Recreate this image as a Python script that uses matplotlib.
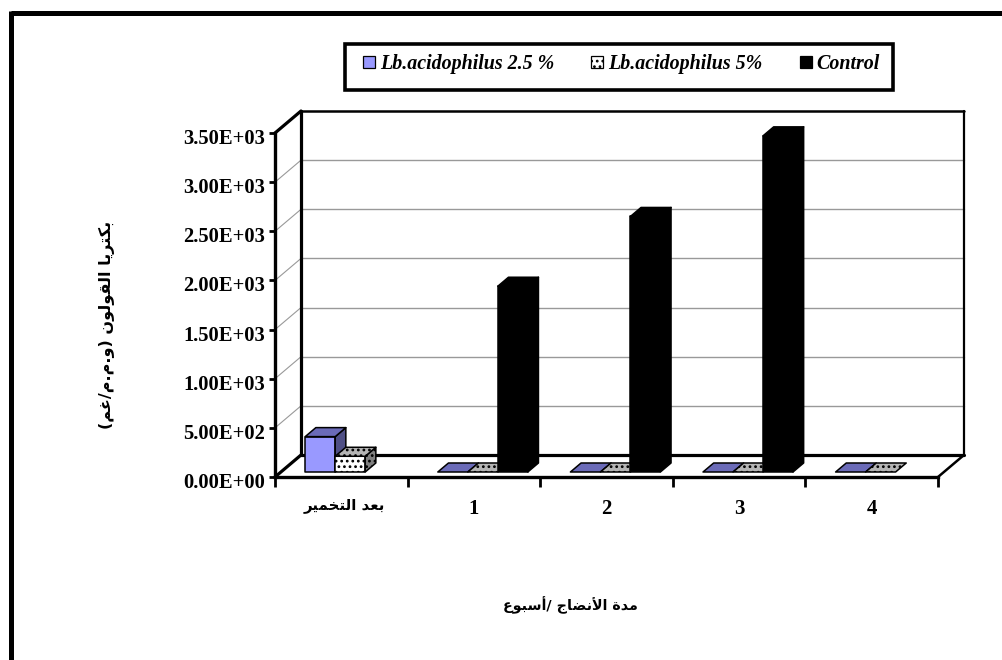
import matplotlib
matplotlib.use( 'Agg' )

import numpy as np
from matplotlib import pyplot as plt
from matplotlib.patches import Patch, Polygon, Rectangle
from matplotlib.lines import Line2D
from matplotlib.transforms import ScaledTranslation

# labels are kept in normal reading order, f_arabic prepares them for drawing
categories = [ 'بعد التخمير', '1', '2', '3', '4' ]
series_names = [ 'Lb.acidophilus 2.5 %', 'Lb.acidophilus 5%', 'Control' ]
acid_25 = [ 360, 0, 0, 0, 0 ]
acid_5 = [ 160, 0, 0, 0, 0 ]
control = [ np.nan, 1890, 2600, 3420, np.nan ]
y_ticks = [ 0, 500, 1000, 1500, 2000, 2500, 3000, 3500 ]
y_tick_labels = [ '0.00E+00', '5.00E+02', '1.00E+03', '1.50E+03',
                  '2.00E+03', '2.50E+03', '3.00E+03', '3.50E+03' ]
x_title = 'مدة الأنضاج /أسبوع'
y_title = 'بكتريا القولون (و.م.م/غم)'

# first presentation form of each letter, and how many forms it has
letter_forms = {
    'ا': ( 0xFE8D, 2 ), 'أ': ( 0xFE83, 2 ), 'ة': ( 0xFE93, 2 ), 'د': ( 0xFEA9, 2 ),
    'ر': ( 0xFEAD, 2 ), 'و': ( 0xFEED, 2 ), '\ufef7': ( 0xFEF7, 2 ),
    'ب': ( 0xFE8F, 4 ), 'ت': ( 0xFE95, 4 ), 'ج': ( 0xFE9D, 4 ), 'خ': ( 0xFEA5, 4 ),
    'س': ( 0xFEB1, 4 ), 'ض': ( 0xFEBD, 4 ), 'ع': ( 0xFEC9, 4 ), 'غ': ( 0xFECD, 4 ),
    'ق': ( 0xFED5, 4 ), 'ك': ( 0xFED9, 4 ), 'ل': ( 0xFEDD, 4 ), 'م': ( 0xFEE1, 4 ),
    'ن': ( 0xFEE5, 4 ), 'ي': ( 0xFEF1, 4 ),
}


def f_arabic( text_ia ):
    # matplotlib does no shaping, so pick the joined forms and reverse the string
    text_ = text_ia.replace( 'لأ', '\ufef7' )
    out_ = []
    for i_, ch_ in enumerate( text_ ):
        if ch_ not in letter_forms:
            out_.append( { '(': ')', ')': '(' }.get( ch_, ch_ ) )
            continue
        start_, count_ = letter_forms[ ch_ ]
        prev_ = text_[ i_ - 1 ] if i_ > 0 else ''
        next_ = text_[ i_ + 1 ] if i_ + 1 < len( text_ ) else ''
        joins_prev_ = prev_ in letter_forms and letter_forms[ prev_ ][ 1 ] == 4
        joins_next_ = next_ in letter_forms and count_ == 4
        if joins_prev_ and joins_next_:
            form_ = 3
        elif joins_next_:
            form_ = 2
        elif joins_prev_:
            form_ = 1
        else:
            form_ = 0
        out_.append( chr( start_ + form_ ) )
    return ''.join( reversed( out_ ) )


serif_ = 'Liberation Serif'
arabic_ = 'DejaVu Sans'

plt.rcParams['hatch.linewidth'] = 1.2
fig = plt.figure( figsize = ( 10.02, 6.6 ), dpi = 100 )
W_, H_ = 1002.0, 660.0

ax = fig.add_axes( [ 275 / W_, 1 - 477 / H_, 663 / W_, 344 / H_ ] )
ax.set_xlim( 0, 5 )
ax.set_ylim( 0, 3500 )
ax.patch.set_visible( False )

# depth of the floor expressed in data units
px_x_ = 663 / 5.0
px_y_ = 344 / 3500.0
DX_ = 26 / px_x_
DY_ = 22 / px_y_


def f_proj( x_ia, v_ia, d_ia ):
    return ( x_ia + d_ia * DX_, v_ia + d_ia * DY_ )


def f_poly( points_ia, face_ia, hatch_ia = None, lw_ia = 1.1, z_ia = 3 ):
    poly_ = Polygon( points_ia, closed = True, facecolor = face_ia, edgecolor = 'black',
                     linewidth = lw_ia, hatch = hatch_ia, clip_on = False, zorder = z_ia,
                     joinstyle = 'round' )
    ax.add_patch( poly_ )


def f_line( p0_ia, p1_ia, color_ia = 'black', lw_ia = 2.2, z_ia = 2 ):
    ax.add_line( Line2D( [ p0_ia[0], p1_ia[0] ], [ p0_ia[1], p1_ia[1] ], color = color_ia,
                         linewidth = lw_ia, clip_on = False, zorder = z_ia,
                         solid_capstyle = 'round' ) )


# gridlines on the back wall and the side wall
for v_ in y_ticks[ 1: ]:
    if v_ < 3500:
        f_line( f_proj( 5, v_, 1 ), f_proj( 0, v_, 1 ), '#999999', 1.0, 1 )
    f_line( f_proj( 0, v_, 1 ), f_proj( 0, v_, 0 ), '#999999', 0.8, 1 )

# wall and floor outlines
f_line( f_proj( 0, 0, 1 ), f_proj( 0, 3500, 1 ), lw_ia = 2.3 )
f_line( f_proj( 0, 3500, 1 ), f_proj( 5, 3500, 1 ), lw_ia = 1.8 )
f_line( f_proj( 5, 3500, 1 ), f_proj( 5, 0, 1 ), lw_ia = 1.6 )
f_line( f_proj( 0, 0, 1 ), f_proj( 5, 0, 1 ), lw_ia = 2.3 )
f_line( f_proj( 0, 0, 0 ), f_proj( 0, 0, 1 ), lw_ia = 2.3 )
f_line( f_proj( 5, 0, 0 ), f_proj( 5, 0, 1 ), lw_ia = 1.8 )
f_line( f_proj( 0, 3500, 0 ), f_proj( 0, 3500, 1 ), lw_ia = 2.3 )

# bars are boxes: front, top and right side
bar_w_ = 30 / px_x_
bar_off_ = 24.3 / px_x_
d0_ = 5 / 22.0
d1_ = 14 / 22.0
styles_ = [
    ( '#9999FF', '#6B6BB8', '#4F4F85', None ),
    ( 'white', '#B5B5B5', '#808080', '...' ),
    ( 'black', 'black', 'black', None ),
]

for s_, values_ in enumerate( [ acid_25, acid_5, control ] ):
    front_, top_, side_, hatch_ = styles_[ s_ ]
    for c_, v_ in enumerate( values_ ):
        if np.isnan( v_ ):
            continue
        x0_ = c_ + bar_off_ + s_ * bar_w_
        x1_ = x0_ + bar_w_
        z_ = 3 + s_
        if v_ > 0:
            f_poly( [ f_proj( x0_, 0, d0_ ), f_proj( x1_, 0, d0_ ),
                      f_proj( x1_, v_, d0_ ), f_proj( x0_, v_, d0_ ) ], front_, hatch_, z_ia = z_ )
            f_poly( [ f_proj( x1_, 0, d0_ ), f_proj( x1_, 0, d1_ ),
                      f_proj( x1_, v_, d1_ ), f_proj( x1_, v_, d0_ ) ], side_, hatch_, z_ia = z_ )
        f_poly( [ f_proj( x0_, v_, d0_ ), f_proj( x1_, v_, d0_ ),
                  f_proj( x1_, v_, d1_ ), f_proj( x0_, v_, d1_ ) ], top_, hatch_, z_ia = z_ )

# axes on the front plane
for side_ in [ 'top', 'right' ]:
    ax.spines[ side_ ].set_visible( False )
for side_ in [ 'left', 'bottom' ]:
    ax.spines[ side_ ].set_linewidth( 2.4 )

ax.set_yticks( y_ticks )
ax.set_yticklabels( y_tick_labels, fontfamily = serif_, fontweight = 'bold', fontsize = 14.8 )
ax.set_xticks( np.arange( 0, 6 ) )
ax.set_xticklabels( [] )
ax.set_xticks( np.arange( 5 ) + 0.5, minor = True )
ax.set_xticklabels( [ f_arabic( categories[0] ) ] + categories[ 1: ], minor = True,
                    fontweight = 'bold', fontsize = 10.8 )
ax.get_xticklabels( minor = True )[0].set_fontfamily( arabic_ )
for lab_ in ax.get_xticklabels( minor = True )[ 1: ]:
    lab_.set_fontfamily( serif_ )
    lab_.set_fontsize( 15 )
ax.tick_params( axis = 'y', length = 4, width = 2, pad = 3 )
ax.tick_params( axis = 'x', which = 'major', length = 7, width = 2 )
ax.tick_params( axis = 'x', which = 'minor', length = 0, pad = 15.5 )

# nudge the value labels a little below their ticks
nudge_ = ScaledTranslation( 0, -2.5 / 72, fig.dpi_scale_trans )
for lab_ in ax.get_yticklabels():
    lab_.set_transform( lab_.get_transform() + nudge_ )
first_ = ax.get_xticklabels( minor = True )[0]
first_.set_transform( first_.get_transform() + ScaledTranslation( 3 / 100, 0.01, fig.dpi_scale_trans ) )

fig.text( 570.5 / W_, 1 - 605 / H_, f_arabic( x_title ), family = arabic_, fontweight = 'bold',
          fontsize = 10.3, ha = 'center', va = 'center' )
fig.text( 107 / W_, 1 - 325 / H_, f_arabic( y_title ), family = arabic_, fontweight = 'bold',
          fontsize = 11.5, ha = 'center', va = 'center', rotation = 90 )

# legend sits inside its own box, which goes under the axes
fig.add_artist( Rectangle( ( 344.5 / W_, 1 - 89.5 / H_ ), 548 / W_, 45.5 / H_, transform = fig.transFigure,
                           facecolor = 'white', edgecolor = 'black', linewidth = 2.6, zorder = -1 ) )
handles_ = [ Patch( facecolor = styles_[ i_ ][ 0 ], edgecolor = 'black', linewidth = 0.9,
                    hatch = styles_[ i_ ][ 3 ] ) for i_ in range( 3 ) ]
leg_ = ax.legend( handles_, series_names, ncol = 3, loc = 'center',
                  bbox_to_anchor = ( 621.5 / W_, 1 - 64 / H_ ), bbox_transform = fig.transFigure,
                  prop = { 'family': serif_, 'weight': 'bold', 'style': 'italic', 'size': 14.4 },
                  frameon = False, handlelength = 0.6, handleheight = 0.6, handletextpad = 0.25,
                  columnspacing = 1.85, borderpad = 0 )

# page frame, open on the right and at the bottom
fig.add_artist( Line2D( [ 10.5 / W_, 1 ], [ 1 - 12.5 / H_, 1 - 12.5 / H_ ], color = 'black', linewidth = 3.6,
                        solid_capstyle = 'butt' ) )
fig.add_artist( Line2D( [ 10.5 / W_, 10.5 / W_ ], [ 1 - 10.7 / H_, 0 ], color = 'black', linewidth = 3.6,
                        solid_capstyle = 'butt' ) )

fig.savefig( 'out.png', dpi = 100 )
